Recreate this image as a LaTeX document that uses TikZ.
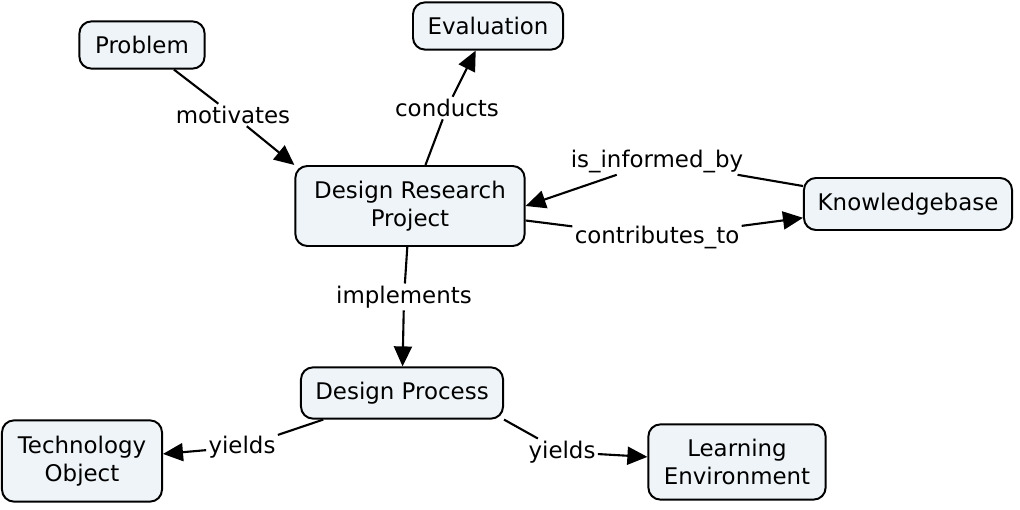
\documentclass[tikz,border=0pt]{standalone}
\usepackage{fontspec}
\setmainfont{DejaVu Sans}
\usetikzlibrary{arrows.meta}
\definecolor{BoxFill}{HTML}{EEF4F7}

\begin{document}
\begin{tikzpicture}[x=0.025cm,y=-0.025cm,
        concept/.style={draw,fill=BoxFill,rounded corners=0.3cm,line width=1.4pt,align=center,inner sep=0pt,font=\fontsize{16.3}{19.5}\selectfont},
        linkword/.style={inner sep=1.5pt,font=\fontsize{16.3}{19.5}\selectfont},
        link/.style={line width=1.5pt},
        linkto/.style={line width=1.5pt,-{Triangle[length=0.5cm,width=0.45cm]}}]
    \useasboundingbox (0,0) rectangle (1020,510);

    % concepts
    \node[concept,minimum width=3.13cm,minimum height=1.18cm] (problem) at (142,45) {Problem};
    \node[concept,minimum width=3.75cm,minimum height=1.18cm] (evaluation) at (488,26) {Evaluation};
    \node[concept,minimum width=5.73cm,minimum height=2cm] (drp) at (410,206) {Design Research\\Project};
    \node[concept,minimum width=5.2cm,minimum height=1.3cm] (kb) at (908,204) {Knowledgebase};
    \node[concept,minimum width=5.05cm,minimum height=1.28cm] (dp) at (402,393) {Design Process};
    \node[concept,minimum width=4cm,minimum height=2.03cm] (techobj) at (82,461) {Technology\\Object};
    \node[concept,minimum width=4.43cm,minimum height=1.88cm] (learnenv) at (737,462) {Learning\\Environment};

    % linking words
    \node[linkword] (motivates) at (233,115) {motivates};
    \node[linkword] (conducts) at (447,108) {conducts};
    \node[linkword] (informed) at (657,161) {is\_informed\_by};
    \node[linkword] (contributes) at (657,237) {contributes\_to};
    \node[linkword] (implements) at (404,297) {implements};
    \node[linkword] (yieldsl) at (242,447) {yields};
    \node[linkword] (yieldsr) at (562,452) {yields};

    % links
    \draw[link] (problem) -- (motivates);
    \draw[linkto] (motivates) -- (drp.north west);
    \draw[link] (drp) -- (conducts);
    \draw[linkto] (conducts) -- (evaluation);
    \draw[link] (kb) -- (informed);
    \draw[linkto] (informed) -- (drp.east);
    \draw[link] (drp) -- (contributes);
    \draw[linkto] (contributes) -- (kb);
    \draw[link] (drp) -- (implements);
    \draw[linkto] (implements) -- (dp);
    \draw[link] (dp) -- (yieldsl);
    \draw[linkto] (yieldsl) -- (techobj);
    \draw[link] (dp.south east) -- (yieldsr);
    \draw[linkto] (yieldsr) -- (learnenv);
\end{tikzpicture}
\end{document}
